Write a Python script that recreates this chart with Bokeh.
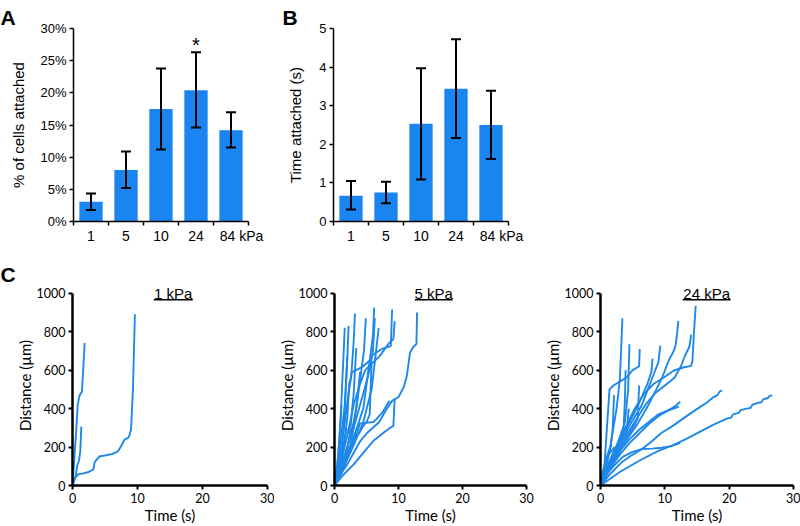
from bokeh.plotting import figure
from bokeh.layouts import column, row
from bokeh.models import (ColumnDataSource, Whisker, TeeHead, FixedTicker,
                          PrintfTickFormatter, Label, Range1d)
from bokeh.core.properties import value
from bokeh.embed import file_html
from bokeh.resources import INLINE

# ---------------- data ----------------
stiffness_labels = ["1", "5", "10", "24", "84 kPa"]

pct_attached = [3.07, 8.0, 17.5, 20.4, 14.2]
pct_upper = [4.37, 10.9, 23.8, 26.3, 17.0]
pct_lower = [1.79, 5.2, 11.2, 14.6, 11.5]
pct_star = ["", "", "", "*", ""]

time_attached = [0.67, 0.75, 2.53, 3.44, 2.50]
time_upper = [1.05, 1.03, 3.97, 4.72, 3.39]
time_lower = [0.31, 0.47, 1.09, 2.16, 1.62]

c_titles = ["1 kPa", "5 kPa", "24 kPa"]

c1_time = [
    [0, 0.3, 0.6, 0.8, 1.1, 1.46, 1.87],
    [0, 0.5, 0.7, 1.0, 1.2, 1.36],
    [0, 0.4, 0.96, 1.5, 2.5, 3.2, 3.4, 3.7, 4.2, 5.0, 6.0, 6.5, 7.0, 7.3, 7.5, 8.0,
     8.5, 8.7, 9.0, 9.3, 9.6],
]
c1_dist = [
    [0, 150, 300, 419, 470, 488, 741],
    [0, 50, 100, 130, 180, 307],
    [0, 40, 60, 62, 70, 83, 120, 134, 152, 156, 163, 169, 178, 195, 207, 238,
     246, 255, 290, 500, 890],
]

c2_time = [
    [0, 0.5, 1.0, 1.3, 1.6],
    [0, 0.6, 1.2, 1.6, 2.0, 2.2],
    [0, 0.8, 1.5, 2.0, 2.3, 2.6, 3.0, 3.2],
    [0, 1, 2, 2.8, 3.5, 4.2, 4.6, 4.9],
    [0, 1.5, 3, 4.5, 5.5, 6.0, 6.2],
    [0, 1.5, 3, 4.5, 5.5, 6.0, 6.3],
    [0, 1.5, 3, 4.5, 5.8, 6.5, 6.9],
    [0, 0.8, 1.5, 2.2, 2.7, 4.3, 5.5, 6.0, 7.4, 8.8, 9.0],
    [0, 1, 2, 3, 4, 4.8, 6, 7, 8.5, 9.2, 9.4],
    [0, 1, 2, 3, 4, 5, 6, 7, 8, 9, 10, 10.8, 11.3, 11.8, 12.3, 12.8, 12.9],
    [0, 1.5, 3, 4.5, 6, 7.5, 8.7, 9.2, 9.4],
    [0, 0.4, 0.8, 1.1],
    [0, 0.6, 1.2, 1.6, 2.0],
    [0, 1, 2, 2.5, 3.0, 3.4],
    [0, 1.2, 2.3, 3, 3.6, 4.0],
    [0, 1, 2, 3, 4, 4.5, 5, 5.5, 5.8],
    [0, 0.7, 1.4, 1.9],
    [0, 1.2, 2.7, 4.0, 6.1, 7.5, 8.2, 8.6],
]
c2_dist = [
    [0, 100, 380, 600, 820],
    [0, 150, 300, 420, 660, 830],
    [0, 120, 220, 350, 530, 560, 750, 895],
    [0, 100, 200, 300, 420, 600, 700, 870],
    [0, 120, 250, 400, 650, 780, 925],
    [0, 150, 300, 480, 600, 700, 870],
    [0, 100, 210, 330, 500, 700, 820],
    [0, 150, 300, 480, 590, 615, 650, 680, 710, 725, 915],
    [0, 120, 260, 420, 530, 600, 640, 670, 740, 760, 855],
    [0, 60, 110, 170, 230, 270, 300, 330, 390, 440, 460, 510, 570, 690, 720, 735, 900],
    [0, 60, 110, 170, 230, 270, 300, 310, 450],
    [0, 100, 250, 420],
    [0, 80, 200, 380, 670],
    [0, 100, 180, 300, 480, 715],
    [0, 80, 170, 300, 460, 590],
    [0, 60, 150, 230, 280, 310, 330, 370, 640],
    [0, 90, 200, 300],
    [0, 90, 200, 323, 330, 380, 420, 440],
]

c3_time = [
    [0, 0.5, 1.0, 1.5, 2.0, 2.5, 3.0, 3.2, 3.4],
    [0, 0.6, 1.0, 1.2, 1.4, 2, 3, 4, 5, 5.5, 6.0, 6.1],
    [0, 1, 2, 3, 3.8, 4.3, 4.5],
    [0, 1, 2.2, 3.7, 5.2, 6.8, 8.3, 9.9, 11.4, 13.0, 14.1, 14.3, 14.5, 14.8],
    [0, 1, 2.5, 4, 5.5, 7, 8.5, 10, 11.5, 12.5, 13.2, 13.8, 14.1],
    [0, 1.5, 3.7, 5.8, 7.3, 8.6, 9.6, 10.6, 11.4, 11.7, 11.9, 12.1],
    [0, 1.5, 3, 4.7, 6.3, 7.3, 8.3, 9.0, 9.3],
    [0, 1.2, 2.5, 4, 5.3, 6.3, 7.3, 7.9, 8.1],
    [0, 1, 2, 3, 3.6, 3.8, 3.9],
    [0, 0.5, 1, 1.6, 1.9, 2.1],
    [0, 1, 2.5, 4, 5, 5.8, 6.0],
    [0, 1.5, 3, 4.5, 6, 7.5, 9, 10.5, 11.5, 12.4],
    [0, 1.5, 3, 4.5, 6, 7.5, 9, 10.5, 12.2],
    [0, 1, 2, 3.5, 5, 6.5, 8, 9.5, 11, 12.4],
    [0, 1.5, 3.2, 4.5, 6.3, 8, 9.4, 11, 12.5, 14, 15.5, 16.5, 17.0, 17.6, 18.2, 18.5, 18.9],
    [0, 3, 6.3, 9, 11.4, 13.5, 15.5, 17.5, 19.7, 20.3, 20.6, 21.5, 21.8, 22.7, 23.3,
     23.6, 24.5, 25.0, 25.3, 26.0, 26.3, 26.7],
    [0, 0.5, 1, 1.5, 2.2],
    [0, 0.7, 1.4, 2.2, 3.0],
    [0, 1, 2, 3, 4, 4.4],
]
c3_dist = [
    [0, 80, 150, 200, 300, 400, 550, 700, 870],
    [0, 100, 300, 400, 500, 520, 540, 560, 600, 610, 620, 710],
    [0, 80, 160, 250, 330, 500, 735],
    [0, 90, 186, 289, 392, 478, 529, 563, 598, 615, 622, 650, 780, 935],
    [0, 80, 170, 260, 340, 420, 480, 520, 560, 620, 680, 720, 785],
    [0, 100, 220, 323, 409, 495, 563, 650, 701, 735, 790, 856],
    [0, 110, 220, 323, 409, 495, 581, 640, 727],
    [0, 100, 200, 300, 380, 452, 529, 590, 660],
    [0, 100, 170, 230, 300, 450, 600],
    [0, 60, 120, 200, 300, 470],
    [0, 70, 150, 240, 300, 350, 520],
    [0, 90, 160, 220, 270, 320, 360, 390, 410, 435],
    [0, 100, 180, 240, 290, 330, 370, 390, 410],
    [0, 60, 100, 150, 175, 190, 192, 196, 205, 222],
    [0, 60, 118, 150, 186, 230, 272, 305, 340, 375, 409, 430, 445, 460, 470, 488, 495],
    [0, 70, 134, 180, 211, 245, 280, 315, 349, 352, 370, 378, 392, 400, 403,
     420, 430, 433, 448, 455, 466, 469],
    [0, 90, 150, 170, 200],
    [0, 60, 110, 140, 160],
    [0, 90, 160, 200, 260, 400],
]

# ---------------- styles ----------------
BAR = "#1A84F0"
LINE = "#1E88E8"
SANS = "Liberation Sans"
HUM = "Lato"


def style_common(p):
    p.outline_line_color = None
    p.grid.visible = False
    p.background_fill_color = "white"
    p.border_fill_color = "white"


def panel_letter(p, letter, offset, standoff):
    p.title.text = letter
    p.title.align = "left"
    p.title.offset = offset
    p.title.standoff = standoff
    p.title.text_font = SANS
    p.title.text_font_size = "21px"
    p.title.text_font_style = "bold"
    p.title.text_color = "black"


def bar_panel(width, left, right, top, bottom, vals, upper, lower, ymax, ystep,
              yfmt, ylabel, ylabel_standoff, letter, letter_offset):
    p = figure(width=width, height=250, x_range=Range1d(0.5, 5.5),
               y_range=Range1d(0, ymax), output_backend="svg",
               toolbar_location=None, min_border_left=left,
               min_border_right=right, min_border_top=top,
               min_border_bottom=bottom, title=letter)
    style_common(p)
    panel_letter(p, letter, letter_offset, 0)
    xs = list(range(1, len(vals) + 1))
    src = ColumnDataSource(dict(x=xs, top=vals, upper=upper, lower=lower))
    p.vbar(x="x", top="top", width=0.666, source=src, fill_color=BAR,
           line_color=None)
    w = Whisker(base="x", upper="upper", lower="lower", source=src,
                line_width=2, line_color="black", level="overlay",
                upper_head=TeeHead(size=10, line_width=2, line_color="black"),
                lower_head=TeeHead(size=10, line_width=2, line_color="black"))
    p.add_layout(w)

    # x axis: boundary ticks, labels centred under bars
    label_pos = xs[:-1] + [xs[-1] + 0.3]
    p.xaxis.ticker = FixedTicker(ticks=label_pos,
                                 minor_ticks=[x - 0.5 for x in xs] + [xs[-1] + 0.5])
    p.xaxis.major_label_overrides = {pos: lab for pos, lab in zip(label_pos, stiffness_labels)}
    p.xaxis.major_tick_line_color = None
    p.xaxis.major_tick_out = 0
    p.xaxis.major_tick_in = 0
    p.xaxis.minor_tick_out = 4
    p.xaxis.minor_tick_in = 0
    p.xaxis.minor_tick_line_width = 1.5
    p.xaxis.axis_line_width = 1.5
    p.xaxis.major_label_standoff = 2
    p.xaxis.major_label_text_font = SANS
    p.xaxis.major_label_text_font_size = "14px"
    p.xaxis.major_label_text_color = "black"

    p.yaxis.ticker = FixedTicker(ticks=[i * ystep for i in range(int(round(ymax / ystep)) + 1)])
    p.yaxis.formatter = PrintfTickFormatter(format=yfmt)
    p.yaxis.minor_tick_line_color = None
    p.yaxis.major_tick_out = 4
    p.yaxis.major_tick_in = 0
    p.yaxis.major_tick_line_width = 1.5
    p.yaxis.axis_line_width = 1.5
    p.yaxis.major_label_standoff = 3
    p.yaxis.major_label_text_font = SANS
    p.yaxis.major_label_text_font_size = "13px"
    p.yaxis.major_label_text_color = "black"
    p.yaxis.axis_label = ylabel
    p.yaxis.axis_label_text_font = SANS
    p.yaxis.axis_label_text_font_size = "15px"
    p.yaxis.axis_label_text_font_style = "normal"
    p.yaxis.axis_label_text_color = "black"
    p.yaxis.axis_label_standoff = ylabel_standoff
    return p, src


def c_panel(width, left, right, ts, ds, title, title_x, underline_px, letter=None):
    top, bottom, height = 35, 40, 276
    frame_w = width - left - right
    p = figure(width=width, height=height, x_range=Range1d(0, 30),
               y_range=Range1d(0, 1040), output_backend="svg",
               toolbar_location=None, min_border_left=left,
               min_border_right=right, min_border_top=top,
               min_border_bottom=bottom, title=letter)
    style_common(p)
    if letter:
        panel_letter(p, letter, -left, 0)
    p.multi_line(xs=ts, ys=ds, line_color=LINE, line_width=1.9)

    for ax in (p.xaxis, p.yaxis):
        ax.axis_line_width = 2.5
        ax.major_tick_line_width = 2
        ax.major_tick_out = 4
        ax.major_tick_in = 0
        ax.minor_tick_line_color = None
        ax.major_label_text_font = HUM
        ax.major_label_text_font_size = "12.5px"
        ax.major_label_text_color = "black"
        ax.axis_label_text_font = HUM
        ax.axis_label_text_font_size = "15px"
        ax.axis_label_text_font_style = "normal"
        ax.axis_label_text_color = "black"
        ax.axis_label_standoff = 0
    p.xaxis.ticker = FixedTicker(ticks=[0, 10, 20, 30])
    p.yaxis.ticker = FixedTicker(ticks=[0, 200, 400, 600, 800, 1000])
    p.yaxis.bounds = (0, 1000)
    p.xaxis.major_label_standoff = 3
    p.yaxis.major_label_standoff = 3
    p.yaxis.axis_label = "Distance (µm)"
    p.xaxis.axis_label = "Time (s)"

    # underlined panel title
    p.add_layout(Label(x=title_x, y=1000, x_units="data", y_units="data",
                       text=title, text_align="center",
                       text_baseline="middle", text_font=SANS,
                       text_font_size="15px", text_color="black"))
    px_per_s = frame_w / 30.0
    px_per_um = 201 / 1040.0
    half = underline_px / 2 / px_per_s
    uy = 1000 - 6.6 / px_per_um
    p.segment(x0=[title_x - half], x1=[title_x + half], y0=[uy], y1=[uy],
              line_color="black", line_width=1.3)
    return p


# ---------------- panels ----------------
pa, src_a = bar_panel(270, 73, 22, 28, 29, pct_attached, pct_upper, pct_lower,
                      30, 5, "%d%%", "% of cells attached", 10, "A", -73)
src_a.data["star"] = pct_star
pa.text(x="x", y="upper", text="star", source=src_a, text_align="center",
        text_baseline="middle", y_offset=-7, text_font=value(SANS),
        text_font_size="20px", text_color="black")

pb, _ = bar_panel(260, 63, 22, 26, 28, time_attached, time_upper, time_lower,
                  5, 1, "%d", "Time attached (s)", 12, "B", -51)

pc1 = c_panel(274, 72, 7, c1_time, c1_dist, c_titles[0], 15.5, 39, letter="C")
pc2 = c_panel(266, 58, 14, c2_time, c2_dist, c_titles[1], 15.5, 38)
pc3 = c_panel(260, 59, 7, c3_time, c3_dist, c_titles[2], 16.5, 48)

layout = column(row(pa, pb), row(pc1, pc2, pc3))

open("out.html", "w").write(file_html(layout, INLINE))
